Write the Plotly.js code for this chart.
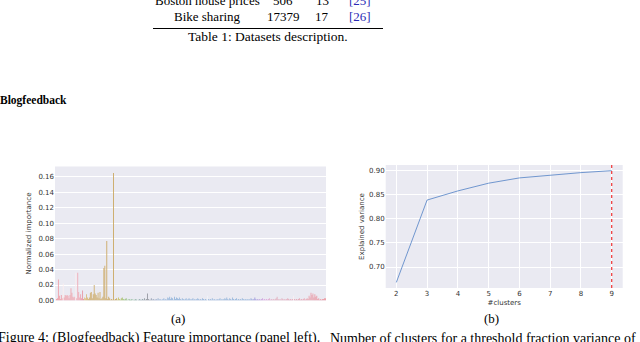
<!DOCTYPE html>
<html><head><meta charset="utf-8">
<script src="https://cdn.plot.ly/plotly-3.0.1.min.js"></script>
<style>html,body{margin:0;padding:0;background:#fff;}#chart{width:640px;height:342px;}</style>
</head><body><div id="chart"></div>
<script>
// ---- Data: (a) feature importance (Blogfeedback features, in order) ----
const importanceA = [
 0.005,0.002,0.003,0.027,0.006,0.002,0.007,0.003,0.022,0.004,0.007,0.006,0.007,0.006,0.003,0.007,0.016,0.010,0.005,0.004,
 0.005,0.036,0.003,0.036,0.011,0.004,0.008,0.003,0.013,0.002,0.004,0.003,0.008,0.004,0.002,0.004,0.010,0.011,0.003,0.008,
 0.020,0.009,0.007,0.004,0.010,0.003,0.011,0.002,0.003,0.005,0.042,0.045,0.003,0.077,0.002,0.005,0.003,0.001,0.002,0.001,
 0.165,0.001,0.002,0.003,0.001,0.004,0.002,0.001,0.003,0.004,0.002,0.001,0.002,0.003,0.001,0.000,0.002,0.001,0.001,0.002,
 0.000,0.001,0.001,0.002,0.001,0.000,0.001,0.002,0.001,0.001,0.002,0.001,0.003,0.001,0.002,0.009,0.002,0.001,0.001,0.003,
 0.001,0.002,0.001,0.001,0.002,0.001,0.003,0.001,0.002,0.001,0.001,0.002,0.003,0.001,0.002,0.001,0.004,0.003,0.005,0.002,
 0.004,0.003,0.001,0.005,0.002,0.004,0.003,0.002,0.004,0.002,0.001,0.003,0.002,0.001,0.002,0.003,0.001,0.002,0.003,0.002,
 0.001,0.002,0.003,0.001,0.002,0.001,0.002,0.003,0.002,0.001,0.002,0.001,0.003,0.002,0.001,0.002,0.001,0.006,0.002,0.001,
 0.002,0.001,0.003,0.001,0.002,0.001,0.001,0.002,0.001,0.002,0.003,0.001,0.002,0.001,0.002,0.003,0.002,0.004,0.002,0.001,
 0.003,0.002,0.001,0.004,0.002,0.001,0.002,0.003,0.001,0.002,0.001,0.002,0.001,0.003,0.002,0.001,0.002,0.001,0.002,0.001,
 0.002,0.001,0.003,0.002,0.001,0.002,0.004,0.002,0.001,0.002,0.001,0.002,0.001,0.002,0.003,0.001,0.002,0.001,0.002,0.001,
 0.002,0.003,0.001,0.002,0.001,0.002,0.001,0.002,0.003,0.005,0.002,0.001,0.002,0.001,0.003,0.002,0.001,0.002,0.001,0.002,
 0.003,0.002,0.001,0.002,0.001,0.002,0.006,0.002,0.001,0.002,0.001,0.002,0.003,0.001,0.002,0.001,0.002,0.003,0.001,0.002,
 0.003,0.002,0.006,0.004,0.010,0.007,0.009,0.004,0.008,0.005,0.006,0.002,0.003,0.001,0.002,0.001,0.002,0.002,0.003,0.003
];
// ---- Data: (b) explained variance vs number of clusters ----
const clusters = [2,3,4,5,6,7,8,9];
const explainedVar = [0.668,0.839,0.858,0.874,0.885,0.891,0.896,0.900];
const chosenClusters = 9;

// ---- Page text ----
const tableRows = [
  ["Boston house prices","506","13","[25]"],
  ["Bike sharing","17379","17","[26]"]
];
const tableCaption = "Table 1: Datasets description.";
const sectionTitle = "Blogfeedback";
const figCaptionParts = ["Figure 4: (Blogfeedback) Feature importance (panel left).",
                         "Number of clusters for a threshold fraction variance of"];

// ---- Styling helpers ----
const W = 640, H = 342;
const px = x => x / W;
const py = y => 1 - y / H;
const n = importanceA.length;
const idx = importanceA.map((_, i) => i);
function barColor(i){
  // hue ramp resembling the reference: pink -> tan -> grey -> blue -> pink
  const stops = [[0,355,72,78],[25,350,68,80],[35,40,50,62],[62,40,50,58],[95,220,5,60],[110,212,50,72],[200,212,50,72],[225,340,45,78],[280,355,70,76]];
  let a = stops[0], b = stops[stops.length-1];
  for (let k=0;k<stops.length-1;k++){ if (i>=stops[k][0] && i<=stops[k+1][0]) { a=stops[k]; b=stops[k+1]; break; } }
  const t = (b[0]===a[0]) ? 0 : (i-a[0])/(b[0]-a[0]);
  const lerp = (u,v)=>u+(v-u)*t;
  let h = lerp(a[1], b[1]);
  if (Math.abs(b[1]-a[1])>180) { h = t<0.5 ? a[1] : b[1]; }
  let l = lerp(a[3], b[3]);
  if ([0,8,21,157,246].includes(i)) l = 96;
  return `hsl(${h.toFixed(0)},${lerp(a[2],b[2]).toFixed(0)}%,${l.toFixed(0)}%)`;
}
const colors = idx.map(barColor);

const tickFont = {family: "DejaVu Sans, Arial, sans-serif", size: 7, color: "#333"};
const serif = "Liberation Serif, Times New Roman, serif";

const traces = [
  {type:'bar', x: idx, y: importanceA, xaxis:'x', yaxis:'y',
   marker:{color: colors, line:{width:0}}, hoverinfo:'skip'},
  {type:'scatter', mode:'lines', x: clusters, y: explainedVar, xaxis:'x2', yaxis:'y2',
   line:{color:'rgba(90,135,200,0.85)', width:1}, hoverinfo:'skip'}
];

const annotations = [];
const colX = [207, 283, 322, 360];
const rowY = [1, 16];
tableRows.forEach((row, r) => {
  row.forEach((cell, c) => {
    annotations.push({xref:'paper', yref:'paper', x: px(colX[c]), y: py(rowY[r]), text: cell,
      showarrow:false, xanchor:'center', yanchor:'middle',
      font:{family: serif, size: 13, color: c===3 ? '#2b2bb5' : '#000'}});
  });
});
annotations.push({xref:'paper', yref:'paper', x: px(268), y: py(36), text: tableCaption, showarrow:false,
  xanchor:'center', yanchor:'middle', font:{family: serif, size: 13.5, color:'#000'}});
annotations.push({xref:'paper', yref:'paper', x: px(-2), y: py(101), text: '<b>'+sectionTitle+'</b>', showarrow:false,
  xanchor:'left', yanchor:'middle', font:{family: serif, size: 11.5, color:'#000'}});
annotations.push({xref:'paper', yref:'paper', x: px(178), y: py(318), text: '(a)', showarrow:false,
  xanchor:'center', yanchor:'middle', font:{family: serif, size: 13, color:'#000'}});
annotations.push({xref:'paper', yref:'paper', x: px(491.5), y: py(318), text: '(b)', showarrow:false,
  xanchor:'center', yanchor:'middle', font:{family: serif, size: 13, color:'#000'}});
annotations.push({xref:'paper', yref:'paper', x: px(322), y: py(338), text: figCaptionParts[0], showarrow:false,
  xanchor:'right', yanchor:'middle', font:{family: serif, size: 14, color:'#000'}});
annotations.push({xref:'paper', yref:'paper', x: px(328), y: py(338), text: figCaptionParts[1], showarrow:false,
  xanchor:'left', yanchor:'middle', font:{family: serif, size: 14, color:'#000'}});

const layout = {
  width: W, height: H,
  margin:{l:0, r:0, t:0, b:0},
  paper_bgcolor:'#fff',
  showlegend:false,
  bargap: 0.1,
  xaxis:{domain:[px(55), px(326)], range:[-0.5, n-0.5], showticklabels:false, showgrid:false, zeroline:false, ticks:''},
  yaxis:{domain:[py(300.5), py(166.5)], range:[0, 0.1733], dtick:0.02, tick0:0, tickformat:'.2f',
         gridcolor:'#fff', gridwidth:1, zeroline:false, ticks:'', tickfont: tickFont,
         title:{text:'Normalized importance', font:{...tickFont, size:7}, standoff:5}},
  xaxis2:{anchor:'y2', domain:[px(385.7), px(622.7)], range:[1.655, 9.357], dtick:1, tick0:0,
          gridcolor:'#fff', gridwidth:1, zeroline:false, ticks:'', tickfont: tickFont,
          title:{text:'#clusters', font:{...tickFont, size:7}, standoff:3}},
  yaxis2:{anchor:'x2', domain:[py(288), py(165)], range:[0.6564, 0.9118], dtick:0.05, tick0:0, tickformat:'.2f',
          gridcolor:'#fff', gridwidth:1, zeroline:false, ticks:'', tickfont: tickFont,
          title:{text:'Explained variance', font:{...tickFont, size:7}, standoff:3}},
  plot_bgcolor:'#EAEAF2',
  shapes:[
    {type:'line', xref:'paper', yref:'paper', x0: px(153), x1: px(383), y0: py(28.5), y1: py(28.5), line:{color:'#000', width:1.2}},
    {type:'line', xref:'x2', yref:'y2 domain', x0: chosenClusters, x1: chosenClusters, y0:0, y1:1, line:{color:'rgb(240,50,50)', width:1.2, dash:'dot'}}
  ],
  annotations: annotations
};
Plotly.newPlot('chart', traces, layout, {staticPlot:true, displayModeBar:false});
</script></body></html>
